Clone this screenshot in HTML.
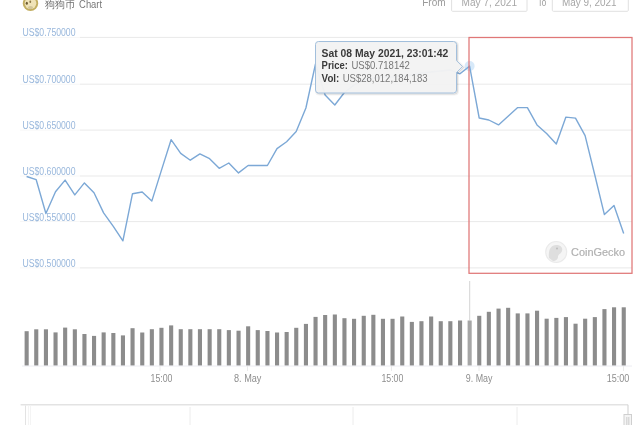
<!DOCTYPE html>
<html><head><meta charset="utf-8"><style>
html,body{margin:0;padding:0;background:#fff;width:640px;height:425px;overflow:hidden}
svg{display:block;filter:blur(0.4px);font-family:"Liberation Sans",sans-serif}
.yl{font-size:10px;fill:#98b7dc}
.xl{font-size:10px;fill:#8e8e8e}
</style></head><body>
<svg width="640" height="425" viewBox="0 0 640 425">
<!-- header -->
<circle cx="30.5" cy="3.4" r="7.7" fill="#c2ae62"/>
<circle cx="30.5" cy="3.3" r="5.8" fill="#efe3b8"/>
<ellipse cx="26.8" cy="3.2" rx="1.1" ry="1.5" fill="#6b5a30"/>
<ellipse cx="30.3" cy="1.8" rx="0.9" ry="1.2" fill="#8d7a48"/>
<ellipse cx="30.5" cy="7.6" rx="2.6" ry="1.6" fill="#d2c69c"/>
<text x="44.6" y="8" style="font-size:10px;fill:#6e6e6e">狗狗币</text>
<text x="79.1" y="8" textLength="23" lengthAdjust="spacingAndGlyphs" style="font-size:10px;fill:#777">Chart</text>
<text x="422.2" y="6" textLength="23.4" lengthAdjust="spacingAndGlyphs" style="font-size:10px;fill:#999">From</text>
<rect x="451.6" y="-2" width="75.4" height="13.3" rx="1" fill="#fff" stroke="#e0e0e0" stroke-width="1"/>
<text x="461.6" y="6" textLength="55.4" lengthAdjust="spacingAndGlyphs" style="font-size:10px;fill:#a6a6a6">May 7, 2021</text>
<text x="537.8" y="6" textLength="8.5" lengthAdjust="spacingAndGlyphs" style="font-size:10px;fill:#999">To</text>
<rect x="552.3" y="-2" width="76" height="13.3" rx="1" fill="#fff" stroke="#e0e0e0" stroke-width="1"/>
<text x="562" y="6" textLength="54.6" lengthAdjust="spacingAndGlyphs" style="font-size:10px;fill:#a6a6a6">May 9, 2021</text>
<!-- grid -->
<line x1="80" y1="37.4" x2="632" y2="37.4" stroke="#e9e9e9" stroke-width="1"/>
<line x1="80" y1="84.2" x2="632" y2="84.2" stroke="#e9e9e9" stroke-width="1"/>
<line x1="80" y1="130.1" x2="632" y2="130.1" stroke="#e9e9e9" stroke-width="1"/>
<line x1="80" y1="176.0" x2="632" y2="176.0" stroke="#e9e9e9" stroke-width="1"/>
<line x1="80" y1="221.6" x2="632" y2="221.6" stroke="#e9e9e9" stroke-width="1"/>
<line x1="80" y1="267.9" x2="632" y2="267.9" stroke="#e9e9e9" stroke-width="1"/>
<g stroke="#f7f7f7" stroke-width="1"><line x1="20" y1="37.4" x2="80" y2="37.4"/><line x1="20" y1="84.2" x2="80" y2="84.2"/><line x1="20" y1="130.1" x2="80" y2="130.1"/><line x1="20" y1="176.0" x2="80" y2="176.0"/><line x1="20" y1="221.6" x2="80" y2="221.6"/><line x1="20" y1="267.9" x2="80" y2="267.9"/></g>
<text x="22.5" y="36.3" textLength="53" lengthAdjust="spacingAndGlyphs" class="yl">US$0.750000</text>
<text x="22.5" y="83.1" textLength="53" lengthAdjust="spacingAndGlyphs" class="yl">US$0.700000</text>
<text x="22.5" y="129.0" textLength="53" lengthAdjust="spacingAndGlyphs" class="yl">US$0.650000</text>
<text x="22.5" y="174.9" textLength="53" lengthAdjust="spacingAndGlyphs" class="yl">US$0.600000</text>
<text x="22.5" y="220.5" textLength="53" lengthAdjust="spacingAndGlyphs" class="yl">US$0.550000</text>
<text x="22.5" y="266.8" textLength="53" lengthAdjust="spacingAndGlyphs" class="yl">US$0.500000</text>
<!-- price line -->
<polyline points="26.6,176.5 36.2,179.7 45.9,213.5 55.5,191.7 65.1,180.1 74.8,194.9 84.4,182.9 94.0,192.8 103.6,212.9 113.3,226.4 122.9,240.8 132.5,193.7 142.2,192.0 151.8,201.1 161.4,170.4 171.1,139.7 180.7,153.4 190.3,160.2 199.9,153.9 209.6,158.7 219.2,168.3 228.8,163.0 238.5,172.9 248.1,165.5 257.7,165.5 267.4,165.5 277.0,148.6 286.6,141.8 296.2,131.6 305.9,108.0 315.5,64.0 325.1,95.0 334.8,105.0 344.4,92.5 354.0,85.0 363.7,80.0 373.3,78.0 382.9,77.0 392.5,77.0 402.2,76.0 411.8,75.0 421.4,73.0 431.1,72.0 440.7,71.0 450.3,70.0 460.0,73.8 469.6,66.1 479.2,118.0 488.8,120.0 498.5,124.9 508.1,116.2 517.7,107.6 527.4,107.6 537.0,124.9 546.6,133.5 556.3,143.9 565.9,117.1 575.5,118.1 585.1,135.6 594.8,175.0 604.4,214.6 614.0,205.4 623.7,233.4" fill="none" stroke="#7ca8d6" stroke-width="1.4" stroke-linejoin="round"/>
<circle cx="469.6" cy="66.1" r="5" fill="#7cb5ec" fill-opacity="0.3"/>
<!-- red rect -->
<rect x="469" y="37.5" width="163" height="235.8" fill="none" stroke="#e07777" stroke-width="1.25"/>
<!-- watermark -->
<circle cx="556.2" cy="252" r="10.5" fill="#f5f5f5" stroke="#ebebeb" stroke-width="1.2"/>
<path d="M549,258 C548,250 551,245 556,245 C561,245 563,248 562,251 C561,254 558,254 558,257 C558,259 556,261 553,261 Z" fill="#dedede"/>
<circle cx="557" cy="248.5" r="1" fill="#bdbdbd"/>
<text x="571" y="256" textLength="54" lengthAdjust="spacingAndGlyphs" style="font-size:11px;fill:#adadad;font-weight:normal;stroke:#b8b8b8;stroke-width:0.2">CoinGecko</text>
<!-- tooltip -->
<path d="M318.5,41.5 H453.5 Q456.5,41.5 456.5,44.5 V60.6 L462.5,66.6 L456.5,72.6 V90 Q456.5,93 453.5,93 H318.5 Q315.5,93 315.5,90 V44.5 Q315.5,41.5 318.5,41.5 Z" transform="translate(1,1)" fill="none" stroke="#000" stroke-opacity="0.05" stroke-width="3"/>
<path d="M318.5,41.5 H453.5 Q456.5,41.5 456.5,44.5 V60.6 L462.5,66.6 L456.5,72.6 V90 Q456.5,93 453.5,93 H318.5 Q315.5,93 315.5,90 V44.5 Q315.5,41.5 318.5,41.5 Z" transform="translate(1,1)" fill="none" stroke="#000" stroke-opacity="0.1" stroke-width="1"/>
<path d="M318.5,41.5 H453.5 Q456.5,41.5 456.5,44.5 V60.6 L462.5,66.6 L456.5,72.6 V90 Q456.5,93 453.5,93 H318.5 Q315.5,93 315.5,90 V44.5 Q315.5,41.5 318.5,41.5 Z" fill="#f3f3f3" fill-opacity="0.97" stroke="#a2bfdc" stroke-width="1"/>
<text x="321.6" y="56.7" style="font-size:10.2px;font-weight:bold;fill:#3a3a3a" textLength="126.6" lengthAdjust="spacingAndGlyphs">Sat 08 May 2021, 23:01:42</text>
<text x="321.6" y="69.3" style="font-size:10.2px;font-weight:bold;fill:#3a3a3a" textLength="26.2" lengthAdjust="spacingAndGlyphs">Price:</text>
<text x="351.4" y="69.3" style="font-size:10.2px;fill:#777" textLength="58.5" lengthAdjust="spacingAndGlyphs">US$0.718142</text>
<text x="321.6" y="81.8" style="font-size:10.2px;font-weight:bold;fill:#3a3a3a" textLength="17.7" lengthAdjust="spacingAndGlyphs">Vol:</text>
<text x="342.7" y="81.8" style="font-size:10.2px;fill:#777" textLength="84.8" lengthAdjust="spacingAndGlyphs">US$28,012,184,183</text>
<!-- crosshair -->
<line x1="469.7" y1="281" x2="469.7" y2="320.5" stroke="#d4d4d4" stroke-width="1"/>
<!-- volume -->
<rect x="24.6" y="331.2" width="4.1" height="34.6" fill="#8c8c8c"/>
<rect x="34.2" y="329.3" width="4.1" height="36.5" fill="#8c8c8c"/>
<rect x="43.9" y="329.3" width="4.1" height="36.5" fill="#8c8c8c"/>
<rect x="53.5" y="332.4" width="4.1" height="33.4" fill="#8c8c8c"/>
<rect x="63.1" y="327.6" width="4.1" height="38.2" fill="#8c8c8c"/>
<rect x="72.8" y="329.3" width="4.1" height="36.5" fill="#8c8c8c"/>
<rect x="82.4" y="334.0" width="4.1" height="31.8" fill="#8c8c8c"/>
<rect x="92.0" y="335.9" width="4.1" height="29.9" fill="#8c8c8c"/>
<rect x="101.6" y="332.4" width="4.1" height="33.4" fill="#8c8c8c"/>
<rect x="111.3" y="333.0" width="4.1" height="32.8" fill="#8c8c8c"/>
<rect x="120.9" y="335.4" width="4.1" height="30.4" fill="#8c8c8c"/>
<rect x="130.5" y="328.2" width="4.1" height="37.6" fill="#8c8c8c"/>
<rect x="140.2" y="332.5" width="4.1" height="33.3" fill="#8c8c8c"/>
<rect x="149.8" y="329.2" width="4.1" height="36.6" fill="#8c8c8c"/>
<rect x="159.4" y="327.8" width="4.1" height="38.0" fill="#8c8c8c"/>
<rect x="169.1" y="325.4" width="4.1" height="40.4" fill="#8c8c8c"/>
<rect x="178.7" y="329.2" width="4.1" height="36.6" fill="#8c8c8c"/>
<rect x="188.3" y="329.2" width="4.1" height="36.6" fill="#8c8c8c"/>
<rect x="197.9" y="329.2" width="4.1" height="36.6" fill="#8c8c8c"/>
<rect x="207.6" y="329.2" width="4.1" height="36.6" fill="#8c8c8c"/>
<rect x="217.2" y="329.2" width="4.1" height="36.6" fill="#8c8c8c"/>
<rect x="226.8" y="330.1" width="4.1" height="35.7" fill="#8c8c8c"/>
<rect x="236.5" y="330.7" width="4.1" height="35.1" fill="#8c8c8c"/>
<rect x="246.1" y="326.3" width="4.1" height="39.5" fill="#8c8c8c"/>
<rect x="255.7" y="330.1" width="4.1" height="35.7" fill="#8c8c8c"/>
<rect x="265.4" y="331.0" width="4.1" height="34.8" fill="#8c8c8c"/>
<rect x="275.0" y="332.5" width="4.1" height="33.3" fill="#8c8c8c"/>
<rect x="284.6" y="332.0" width="4.1" height="33.8" fill="#8c8c8c"/>
<rect x="294.2" y="327.8" width="4.1" height="38.0" fill="#8c8c8c"/>
<rect x="303.9" y="323.9" width="4.1" height="41.9" fill="#8c8c8c"/>
<rect x="313.5" y="316.9" width="4.1" height="48.9" fill="#8c8c8c"/>
<rect x="323.1" y="315.0" width="4.1" height="50.8" fill="#8c8c8c"/>
<rect x="332.8" y="314.5" width="4.1" height="51.3" fill="#8c8c8c"/>
<rect x="342.4" y="318.2" width="4.1" height="47.6" fill="#8c8c8c"/>
<rect x="352.0" y="318.8" width="4.1" height="47.0" fill="#8c8c8c"/>
<rect x="361.7" y="315.8" width="4.1" height="50.0" fill="#8c8c8c"/>
<rect x="371.3" y="314.8" width="4.1" height="51.0" fill="#8c8c8c"/>
<rect x="380.9" y="318.8" width="4.1" height="47.0" fill="#8c8c8c"/>
<rect x="390.5" y="318.8" width="4.1" height="47.0" fill="#8c8c8c"/>
<rect x="400.2" y="316.5" width="4.1" height="49.3" fill="#8c8c8c"/>
<rect x="409.8" y="321.9" width="4.1" height="43.9" fill="#8c8c8c"/>
<rect x="419.4" y="321.2" width="4.1" height="44.6" fill="#8c8c8c"/>
<rect x="429.1" y="316.5" width="4.1" height="49.3" fill="#8c8c8c"/>
<rect x="438.7" y="321.2" width="4.1" height="44.6" fill="#8c8c8c"/>
<rect x="448.3" y="321.2" width="4.1" height="44.6" fill="#8c8c8c"/>
<rect x="458.0" y="320.5" width="4.1" height="45.3" fill="#8c8c8c"/>
<rect x="467.6" y="320.5" width="4.1" height="45.3" fill="#a6a6a6"/>
<rect x="477.2" y="315.8" width="4.1" height="50.0" fill="#8c8c8c"/>
<rect x="486.8" y="311.8" width="4.1" height="54.0" fill="#8c8c8c"/>
<rect x="496.5" y="308.6" width="4.1" height="57.2" fill="#8c8c8c"/>
<rect x="506.1" y="307.8" width="4.1" height="58.0" fill="#8c8c8c"/>
<rect x="515.7" y="313.4" width="4.1" height="52.4" fill="#8c8c8c"/>
<rect x="525.4" y="313.4" width="4.1" height="52.4" fill="#8c8c8c"/>
<rect x="535.0" y="310.7" width="4.1" height="55.1" fill="#8c8c8c"/>
<rect x="544.6" y="318.7" width="4.1" height="47.1" fill="#8c8c8c"/>
<rect x="554.3" y="317.9" width="4.1" height="47.9" fill="#8c8c8c"/>
<rect x="563.9" y="317.1" width="4.1" height="48.7" fill="#8c8c8c"/>
<rect x="573.5" y="323.7" width="4.1" height="42.1" fill="#8c8c8c"/>
<rect x="583.1" y="318.7" width="4.1" height="47.1" fill="#8c8c8c"/>
<rect x="592.8" y="317.1" width="4.1" height="48.7" fill="#8c8c8c"/>
<rect x="602.4" y="309.1" width="4.1" height="56.7" fill="#8c8c8c"/>
<rect x="612.0" y="307.3" width="4.1" height="58.5" fill="#8c8c8c"/>
<rect x="621.7" y="307.3" width="4.1" height="58.5" fill="#8c8c8c"/>
<line x1="22" y1="366" x2="632" y2="366" stroke="#ececf2" stroke-width="1"/>
<g stroke="#ececec" stroke-width="1"><line x1="160" y1="366" x2="160" y2="371"/><line x1="247.5" y1="366" x2="247.5" y2="371"/><line x1="391.5" y1="366" x2="391.5" y2="371"/><line x1="479" y1="366" x2="479" y2="371"/><line x1="623.5" y1="366" x2="623.5" y2="371"/></g>
<!-- x labels -->
<text x="150.5" y="381.8" class="xl" textLength="22" lengthAdjust="spacingAndGlyphs">15:00</text>
<text x="234" y="381.8" class="xl" textLength="27.4" lengthAdjust="spacingAndGlyphs">8. May</text>
<text x="381.4" y="381.8" class="xl" textLength="22" lengthAdjust="spacingAndGlyphs">15:00</text>
<text x="465.8" y="381.8" class="xl" textLength="26.7" lengthAdjust="spacingAndGlyphs">9. May</text>
<text x="606.8" y="381.8" class="xl" textLength="22.6" lengthAdjust="spacingAndGlyphs">15:00</text>
<!-- navigator -->
<line x1="20.6" y1="404.8" x2="628" y2="404.8" stroke="#e3e3e3" stroke-width="1.5"/>
<line x1="25.5" y1="405.5" x2="25.5" y2="425" stroke="#e3e3e3" stroke-width="1"/>
<line x1="28.5" y1="405.5" x2="28.5" y2="425" stroke="#f1f1f1" stroke-width="0.8"/>
<line x1="30.5" y1="405.5" x2="30.5" y2="425" stroke="#f1f1f1" stroke-width="0.8"/>
<line x1="190" y1="407" x2="190" y2="425" stroke="#ececec" stroke-width="1"/>
<line x1="353" y1="407" x2="353" y2="425" stroke="#ececec" stroke-width="1"/>
<line x1="517" y1="407" x2="517" y2="425" stroke="#ececec" stroke-width="1"/>
<line x1="628" y1="404.8" x2="628" y2="414.5" stroke="#cfcfcf" stroke-width="1"/>
<rect x="624" y="414.5" width="7.5" height="12" fill="#f4f4f4" stroke="#cfcfcf" stroke-width="1"/>
<line x1="626.8" y1="417" x2="626.8" y2="425" stroke="#c4c4c4" stroke-width="0.8"/>
<line x1="628.8" y1="417" x2="628.8" y2="425" stroke="#c4c4c4" stroke-width="0.8"/>
</svg>
</body></html>
